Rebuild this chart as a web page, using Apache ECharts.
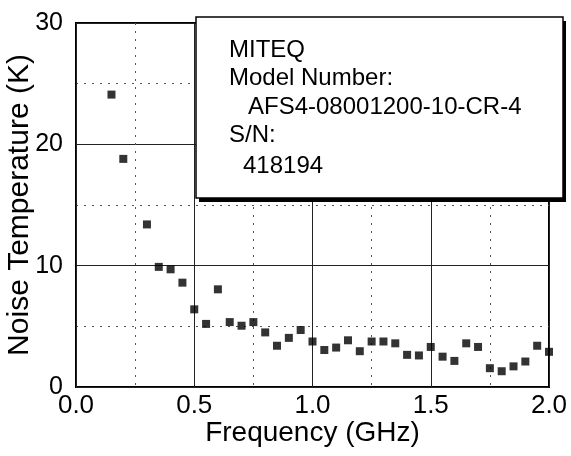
<!DOCTYPE html>
<html>
<head>
<meta charset="utf-8">
<script src="https://cdn.jsdelivr.net/npm/echarts@6/dist/echarts.min.js"></script>
<style>
html, body { margin: 0; padding: 0; background: #fff; }
#chart { width: 571px; height: 456px; }
</style>
</head>
<body>
<div id="chart"></div>
<script>
// measured noise temperature
var freqs = [0.15, 0.2, 0.3, 0.35, 0.4, 0.45, 0.5, 0.55, 0.6, 0.65, 0.7, 0.75, 0.8, 0.85, 0.9, 0.95,
	1.0, 1.05, 1.1, 1.15, 1.2, 1.25, 1.3, 1.35, 1.4, 1.45, 1.5, 1.55, 1.6, 1.65, 1.7, 1.75, 1.8, 1.85, 1.9, 1.95, 2.0];
var temps = [24.1, 18.8, 13.4, 9.9, 9.7, 8.6, 6.4, 5.2, 8.05, 5.35, 5.05, 5.35, 4.5, 3.4, 4.05, 4.7,
	3.75, 3.05, 3.25, 3.85, 2.95, 3.75, 3.75, 3.6, 2.65, 2.6, 3.3, 2.5, 2.15, 3.6, 3.3, 1.55, 1.3, 1.7, 2.1, 3.4, 2.9];
var boxLines = ['MITEQ', 'Model Number:', 'AFS4-08001200-10-CR-4', 'S/N:', '418194'];

var points = freqs.map(function (f, i) { return [f, temps[i]]; });
var font = '"Liberation Sans", Arial, sans-serif';

// where each line of the note box sits
var lineX = [229, 229, 248, 229, 243];
var lineY = [50, 78, 107, 135, 166];

var myChart = echarts.init(document.getElementById('chart'));

var graphics = [
	{ type: 'rect', x: 199, y: 21, z: 10, shape: { width: 367, height: 181 }, style: { fill: '#000' } },
	{ type: 'rect', x: 196, y: 17, z: 11, shape: { width: 367, height: 181 }, style: { fill: '#fff', stroke: '#000', lineWidth: 1.5 } }
];
boxLines.forEach(function (t, i) {
	graphics.push({
		type: 'text', x: lineX[i], y: lineY[i], z: 12,
		style: {
			text: t,
			fill: '#000',
			font: '24px "Liberation Sans", Arial, sans-serif',
			verticalAlign: 'middle'
		}
	});
});

option = {
	animation: false,
	backgroundColor: '#fff',
	grid: {
		left: 76,
		right: 22,
		top: 23,
		bottom: 69,
		containLabel: false,
		outerBoundsMode: 'none',
		show: true,
		borderColor: '#000',
		borderWidth: 2
	},
	xAxis: {
		type: 'value',
		min: 0,
		max: 2,
		interval: 0.5,
		name: 'Frequency (GHz)',
		nameLocation: 'middle',
		nameGap: 32,
		nameMoveOverlap: false,
		nameTextStyle: { color: '#000', fontSize: 28, fontFamily: font },
		axisLine: { show: false },
		axisTick: { show: false },
		axisLabel: {
			color: '#000', fontSize: 26, fontFamily: font, margin: 6,
			formatter: function (v) { return v.toFixed(1); }
		},
		splitLine: { show: true, lineStyle: { color: '#222', width: 1 } },
		minorTick: { show: false, splitNumber: 2 },
		minorSplitLine: { show: true, lineStyle: { color: '#555', width: 1, type: [2, 6] } }
	},
	yAxis: {
		type: 'value',
		min: 0,
		max: 30,
		interval: 10,
		name: 'Noise Temperature (K)',
		nameLocation: 'middle',
		nameGap: 41,
		nameMoveOverlap: false,
		nameTextStyle: { color: '#000', fontSize: 30, fontFamily: font },
		axisLine: { show: false },
		axisTick: { show: false },
		axisLabel: { color: '#000', fontSize: 25, fontFamily: font, margin: 13 },
		splitLine: { show: true, lineStyle: { color: '#222', width: 1 } },
		minorTick: { show: false, splitNumber: 2 },
		minorSplitLine: { show: true, lineStyle: { color: '#555', width: 1, type: [2, 6] } }
	},
	series: [{
		type: 'scatter',
		symbol: 'rect',
		symbolSize: 8,
		itemStyle: { color: '#000' },
		data: points,
		z: 3
	}],
	graphic: graphics
};

myChart.setOption(option);
window.addEventListener("resize", function () {
	myChart.resize();
});
</script>
</body>
</html>
